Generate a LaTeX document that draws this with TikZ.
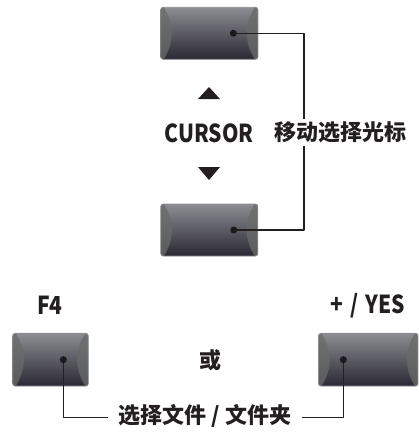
\documentclass[tikz,border=0pt]{standalone}
\usepackage{fontspec}
\usepackage{graphicx}
\setmainfont{Noto Sans CJK SC}
\usetikzlibrary{calc}
\definecolor{linec}{HTML}{231F20}
\definecolor{txt}{HTML}{231F20}
\definecolor{keytop}{HTML}{8C8C92}
\definecolor{keymid}{HTML}{45454E}
\definecolor{keybot}{HTML}{2A2934}
\definecolor{paneltop}{HTML}{707274}
\definecolor{panelbot}{HTML}{585A5C}
\definecolor{keyedge}{HTML}{8E8E90}
\definecolor{dotc}{HTML}{1A1A1C}
% name, cx, cy, width, height, dot offset
\newcommand\keybtn[6]{%
  \begin{scope}[shift={(#2,#3)}]
    \pgfmathsetmacro\hw{#4/2}
    \pgfmathsetmacro\hh{#5/2}
    \begin{scope}
      \path[clip, rounded corners=2.5] (-\hw,-\hh) rectangle (\hw,\hh);
      \shade[top color=keytop, middle color=keymid, bottom color=keybot]
        (-\hw,-\hh) rectangle (\hw,\hh);
      \shade[top color=paneltop, bottom color=panelbot]
        (-\hw-1,-\hh-1) -- (-\hw+2.5,-\hh-1)
        .. controls (-\hw+14,-\hh*0.35) and (-\hw+14,\hh*0.35) .. (-\hw+2.5,\hh+1)
        -- (-\hw-1,\hh+1) -- cycle;
      \shade[top color=paneltop, bottom color=panelbot]
        (\hw+1,-\hh-1) -- (\hw-2.5,-\hh-1)
        .. controls (\hw-14,-\hh*0.35) and (\hw-14,\hh*0.35) .. (\hw-2.5,\hh+1)
        -- (\hw+1,\hh+1) -- cycle;
    \end{scope}
    \draw[keyedge, line width=0.8pt, rounded corners=2.5] (-\hw,-\hh) rectangle (\hw,\hh);
  \end{scope}
  \node[minimum width=#4pt, minimum height=#5pt, inner sep=0pt] (#1) at (#2,#3) {};
  \coordinate (#1dot) at ($(#1.center)+(#6,0)$);
}
\newcommand\tall[1]{\scalebox{1}[1.18]{#1}}
\begin{document}
\begin{tikzpicture}[x=1pt, y=-1pt, line join=round,
  conn/.style={draw=linec, line width=1.3pt},
  lbl/.style={font=\bfseries\fontsize{21}{24}\selectfont, text=txt, inner sep=0pt},
  cjk/.style={font=\bfseries\fontsize{22}{26}\selectfont, text=txt, inner sep=0pt},
  tri/.style={fill=txt}]
\useasboundingbox (0,0) rectangle (419,432);

\keybtn{up}{209.3}{33.3}{97.3}{52}{24}
\keybtn{down}{209.3}{230}{97}{52}{24.5}
\keybtn{ffour}{50.5}{359.7}{75.6}{52.7}{12.8}
\keybtn{yes}{368.3}{359.7}{99.5}{52.7}{-25}

\coordinate (rail) at (304,0);
\coordinate (base) at (0,417.5);

% connectors
\draw[conn] (updot) -- (updot -| rail) -- (downdot -| rail) -- (downdot);
\draw[conn] (ffourdot) -- (ffourdot |- base) -- (yesdot |- base) -- (yesdot);

% dots
\fill[dotc] (updot) circle (3.5);
\fill[dotc] (downdot) circle (3.5);
\fill[dotc] (ffourdot) circle (3.5);
\fill[dotc] (yesdot) circle (3.5);

% labels
\node[cjk, fill=white, inner ysep=3pt] (move) at (340,132.5) {移动选择光标};
\node[lbl] (cursor) at (209,133) {\tall{CURSOR}};
\node[lbl] (f4lbl) at (50,305.5) {\tall{F4}};
\node[lbl] (yeslbl) at (367.5,305.5) {\tall{+\hspace{0.34em}/\hspace{0.34em}YES}};
\node[cjk] (or) at (210,360) {或};
\node[cjk, fill=white, inner xsep=11pt, inner ysep=3pt] (sel) at (205,416) {选择文件 / 文件夹};

% arrows
\fill[tri] (198,99) -- (220,99) -- (209,87) -- cycle;
\fill[tri] (198,167) -- (220,167) -- (209,180) -- cycle;
\end{tikzpicture}
\end{document}
